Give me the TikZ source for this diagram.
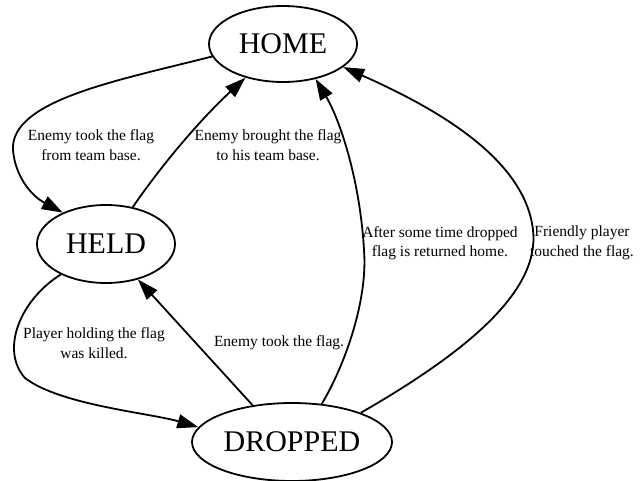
\documentclass[tikz,border=0pt]{standalone}
\usepackage{fontspec}
\setmainfont{Liberation Serif}
\usetikzlibrary{arrows.meta,shapes.geometric}
\begin{document}
\begin{tikzpicture}[x=1pt,y=-1pt,
  state/.style={draw,ellipse,line width=1.8pt,inner sep=0pt,
    font=\fontsize{30}{36}\selectfont},
  edgelabel/.style={align=center,inner sep=0pt,
    font=\fontsize{15.5}{19.5}\selectfont},
  trans/.style={line width=1.8pt,-{Triangle[length=21pt,width=14pt]}}]
\useasboundingbox (0,0) rectangle (640,481);

% states
\node[state,minimum width=148pt,minimum height=76pt] (home) at (283,44) {HOME};
\node[state,minimum width=138pt,minimum height=78pt] (held) at (106,244) {HELD};
\node[state,minimum width=200pt,minimum height=78pt] (dropped) at (292,442) {DROPPED};

% transitions
\draw[trans] (home.190) .. controls (120,80) and (10,100) .. (13,150)
  .. controls (15,175) and (30,195) .. (held.144);
\draw[trans] (held.54) .. controls (165,160) and (205,115) .. (home.222);
\draw[trans] (held.214) .. controls (20,300) and (0,350) .. (25,378)
  .. controls (60,405) and (150,413) .. (dropped.171);
\draw[trans] (dropped.137) -- (held.312);
\draw[trans] (dropped.52) .. controls (345,365) and (368,300) .. (364,250)
  .. controls (360,180) and (340,120) .. (home.313);
\draw[trans] (dropped.23) .. controls (470,350) and (540,290) .. (533,230)
  .. controls (525,160) and (440,110) .. (home.339);

% transition labels
\node[edgelabel] (l1) at (91,145) {Enemy took the flag\\from team base.};
\node[edgelabel] (l2) at (268,145) {Enemy brought the flag\\to his team base.};
\node[edgelabel] (l3) at (94,343) {Player holding the flag\\was killed.};
\node[edgelabel] (l4) at (279,343) {Enemy took the flag.};
\node[edgelabel] (l5) at (440,243) {After some time dropped\\flag is returned home.};
\node[edgelabel] (l6) at (582,243) {Friendly player\\touched the flag.};
\end{tikzpicture}
\end{document}
